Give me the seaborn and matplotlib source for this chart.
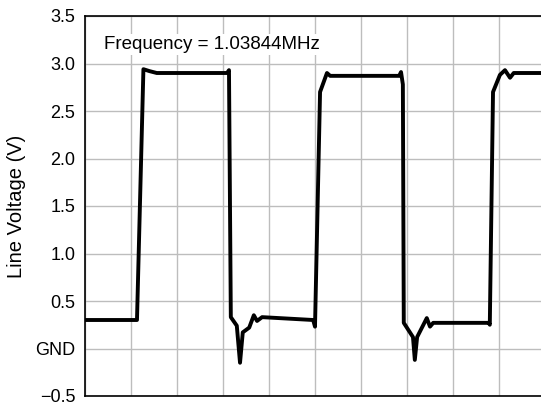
import matplotlib
matplotlib.use("Agg")
import matplotlib.pyplot as plt
import pandas as pd
import seaborn as sns

sns.set_style("whitegrid")
plt.rcParams['font.family'] = ['Liberation Sans', 'DejaVu Sans']
plt.rcParams['text.color'] = 'black'
plt.rcParams['axes.labelcolor'] = 'black'
plt.rcParams['ytick.color'] = 'black'

# time axis in grid divisions, voltage in V
t = [0.00, 1.13, 1.27, 1.40, 1.56, 3.09, 3.13, 3.17, 3.30, 3.37, 3.43, 3.57,
     3.67, 3.74, 3.85, 4.96, 5.00, 5.11, 5.26, 5.33, 6.83, 6.87, 6.91, 6.93,
     7.13, 7.17, 7.22, 7.43, 7.50, 7.57, 8.78, 8.80, 8.87, 9.02, 9.13, 9.24,
     9.32, 10.00]
volts = [0.30, 0.30, 2.94, 2.92, 2.90, 2.90, 2.93, 0.33, 0.24, -0.15, 0.17, 0.22,
         0.35, 0.29, 0.33, 0.30, 0.23, 2.70, 2.90, 2.87, 2.87, 2.91, 2.78, 0.27,
         0.12, -0.12, 0.12, 0.32, 0.23, 0.27, 0.27, 0.25, 2.70, 2.88, 2.93, 2.85,
         2.90, 2.90]

y_ticks = [-0.5, 0.0, 0.5, 1.0, 1.5, 2.0, 2.5, 3.0, 3.5]
y_labels = ['\u22120.5', 'GND', '0.5', '1.0', '1.5', '2.0', '2.5', '3.0', '3.5']
freq_label = 'Frequency = 1.03844MHz'

df = pd.DataFrame({'t': t, 'V': volts})

fig = plt.figure(figsize=(5.41, 4.04), dpi=100)
ax = fig.add_axes([85 / 541, 8 / 404, 460 / 541, 380 / 404])

sns.lineplot(data=df, x='t', y='V', ax=ax, color='black', linewidth=2.8,
             sort=False, estimator=None)

ax.set_xlim(0, 10)
ax.set_ylim(-0.5, 3.5)
ax.set_xticks(range(0, 11))
ax.set_xticklabels([])
ax.set_yticks(y_ticks)
ax.set_yticklabels(y_labels, fontsize=13, color='black')
ax.tick_params(axis='both', length=0, pad=7)
ax.grid(True, color='#bdbdbd', linewidth=1.0)
ax.set_xlabel('')
ax.set_ylabel('Line Voltage (V)', fontsize=14.5, color='black')
ax.yaxis.set_label_coords(-0.128, 0.5)

for side in ['left', 'bottom', 'top']:
    ax.spines[side].set_visible(True)
    ax.spines[side].set_color('black')
    ax.spines[side].set_linewidth(1.2)
ax.spines['right'].set_visible(False)

ax.text(0.41, 3.20, freq_label, fontsize=13.5, va='center', ha='left',
        color='black', bbox=dict(facecolor='white', edgecolor='none', pad=1.5))

fig.savefig('out.png', dpi=100)
